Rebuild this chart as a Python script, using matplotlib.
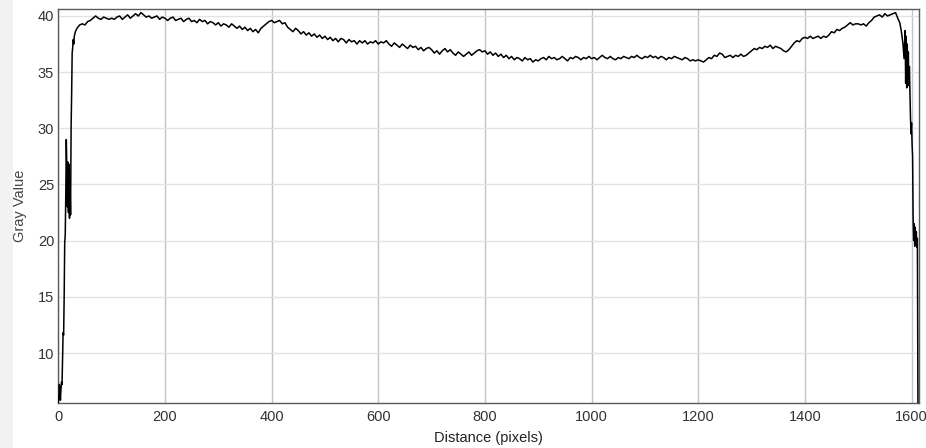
import numpy as np
import matplotlib
matplotlib.use("Agg")
import matplotlib.pyplot as plt
from matplotlib.patches import Rectangle

# Gray-value line profile: steep rise at the left edge, broad plateau, edge drop at the right.
# Left edge samples (distance in pixels, gray value)
left_x = [0, 1, 2, 3, 4, 5, 6, 7, 8, 9, 10, 11, 12, 13, 14, 15, 16, 17, 18,
          19, 20, 21, 22, 23, 24, 25, 26, 27, 28, 29, 30, 32]
left_y = [5.6, 6.0, 7.2, 6.5, 5.8, 6.8, 7.4, 7.2, 9.5, 11.8, 11.6, 15.0, 19.8,
          20.5, 24.0, 29.0, 26.5, 23.0, 27.0, 22.5, 26.8, 22.0, 25.0, 22.3, 30.0,
          33.0, 36.7, 37.2, 37.9, 37.5, 38.2, 38.6]

# Plateau, sampled every 5 pixels from distance 35 to 1570
body_start = 35
body_step = 5
body_y = [
    38.9, 39.2, 39.3, 39.2, 39.5, 39.6, 39.8, 40.0, 39.8, 39.7, 39.9, 39.8, 39.7,
    # 100
    39.8, 39.7, 39.9, 40.0, 39.7, 39.9, 40.1, 39.8, 40.0, 40.2,
    40.0, 40.3, 40.1, 39.9, 40.0, 39.8, 39.9, 40.0, 39.7, 39.9,
    # 200
    39.8, 39.6, 39.8, 39.9, 39.6, 39.7, 39.8, 39.5, 39.7, 39.8,
    39.5, 39.6, 39.4, 39.7, 39.5, 39.6, 39.3, 39.5, 39.4, 39.2,
    # 300
    39.4, 39.1, 39.3, 39.2, 39.0, 39.3, 39.1, 38.9, 39.1, 38.8,
    39.0, 38.7, 38.9, 38.6, 38.8, 38.5, 38.9, 39.1, 39.3, 39.5,
    # 400
    39.6, 39.4, 39.5, 39.6, 39.3, 39.4, 39.0, 38.8, 38.6, 38.9,
    38.7, 38.4, 38.6, 38.3, 38.5, 38.2, 38.4, 38.1, 38.3, 38.0,
    # 500
    38.2, 37.9, 38.1, 37.8, 38.0, 37.7, 38.0, 37.9, 37.6, 37.9,
    37.7, 37.8, 37.5, 37.8, 37.6, 37.8, 37.5, 37.7, 37.6, 37.8,
    # 600
    37.5, 37.7, 37.6, 37.8, 37.5, 37.3, 37.6, 37.4, 37.2, 37.5,
    37.3, 37.1, 37.4, 37.2, 37.3, 37.0, 37.2, 36.9, 37.1, 37.2,
    # 700
    37.0, 36.7, 36.9, 36.6, 36.9, 37.1, 36.8, 37.0, 36.7, 36.5,
    36.8, 36.6, 36.4, 36.6, 36.8, 36.5, 36.7, 36.9, 37.0, 36.8,
    # 800
    36.9, 36.6, 36.8, 36.5, 36.7, 36.4, 36.6, 36.3, 36.5, 36.2,
    36.4, 36.1, 36.3, 36.2, 36.0, 36.3, 36.1, 36.2, 35.9, 36.1,
    # 900
    36.0, 36.2, 36.3, 36.1, 36.4, 36.2, 36.3, 36.1, 36.2, 36.4,
    36.2, 36.0, 36.3, 36.2, 36.4, 36.3, 36.1, 36.3, 36.2, 36.4,
    # 1000
    36.2, 36.3, 36.1, 36.3, 36.5, 36.3, 36.2, 36.4, 36.2, 36.1,
    36.3, 36.2, 36.4, 36.3, 36.2, 36.4, 36.3, 36.5, 36.3, 36.2,
    # 1100
    36.4, 36.3, 36.5, 36.3, 36.4, 36.2, 36.4, 36.3, 36.1, 36.3,
    36.2, 36.4, 36.3, 36.2, 36.1, 36.3, 36.2, 36.0, 36.1, 36.0,
    # 1200
    36.1, 36.0, 35.9, 36.1, 36.3, 36.2, 36.5, 36.4, 36.7, 36.6,
    36.3, 36.4, 36.5, 36.3, 36.5, 36.4, 36.6, 36.4, 36.5, 36.7,
    # 1300
    36.9, 37.1, 37.0, 37.2, 37.1, 37.3, 37.2, 37.4, 37.1, 37.3,
    37.2, 37.1, 36.9, 36.8, 37.0, 37.3, 37.6, 37.8, 37.7, 38.0,
    # 1400
    38.1, 38.0, 38.2, 38.0, 38.1, 38.2, 38.0, 38.2, 38.1, 38.3,
    38.6, 38.5, 38.8, 38.7, 38.9, 39.0, 39.2, 39.4, 39.2, 39.3,
    # 1500
    39.3, 39.2, 39.3, 39.1, 39.4, 39.6, 39.9, 40.0, 40.1, 39.9,
    40.2, 40.0, 40.1, 40.2, 40.3,
]

# Right edge samples
right_x = [1575, 1578, 1581, 1584, 1586, 1588, 1589, 1590, 1591, 1592, 1593,
           1594, 1595, 1596, 1597, 1598, 1599, 1600, 1601, 1602, 1603, 1604,
           1605, 1606, 1607, 1608, 1609, 1610, 1611, 1612]
right_y = [39.7, 39.4, 38.6, 37.5, 36.2, 38.7, 34.0, 38.2, 33.6, 37.5, 34.2,
           36.8, 33.8, 35.5, 33.2, 31.0, 29.5, 30.5, 28.6, 27.5, 21.9, 20.0,
           21.5, 19.5, 21.2, 19.8, 20.8, 19.4, 20.2, 5.6]

x_ticks = [0, 200, 400, 600, 800, 1000, 1200, 1400, 1600]
y_ticks = [10, 15, 20, 25, 30, 35, 40]

body_x = body_start + body_step * np.arange(len(body_y))
dist = np.concatenate([left_x, body_x, right_x])
gray = np.concatenate([left_y, body_y, right_y])

plt.rcParams["font.family"] = ["Liberation Sans", "DejaVu Sans"]

fig = plt.figure(figsize=(9.26, 4.48), dpi=100)
fig.patch.set_facecolor("white")
# light side strip along the left edge of the window
fig.patches.append(Rectangle((0, 0), 13 / 926, 1, transform=fig.transFigure,
                             facecolor="#f2f2f2", edgecolor="none", zorder=0))

ax = fig.add_axes([58.3 / 926, 1 - 403 / 448, (919 - 58.3) / 926, (403 - 9) / 448])
ax.plot(dist, gray, color="black", lw=1.1, zorder=3)

ax.set_xlim(0, 1614)
ax.set_ylim(5.55, 40.62)
ax.set_xticks(x_ticks)
ax.set_yticks(y_ticks)

for t in x_ticks:
    ax.axvline(t, color="#c4c4c4", lw=1.0, zorder=1)
for t in y_ticks:
    ax.axhline(t, color="#e2e2e2", lw=1.0, zorder=1)

for s in ax.spines.values():
    s.set_color("#5a5a5a")
    s.set_linewidth(1.0)

ax.tick_params(length=0, labelsize=10.5, labelcolor="#333333")
ax.tick_params(axis="x", pad=5)
ax.tick_params(axis="y", pad=3)
ax.set_xlabel("Distance (pixels)", fontsize=10.5, color="#222222", labelpad=5)
ax.set_ylabel("Gray Value", fontsize=10.5, color="#444444", labelpad=8)

fig.savefig("out.png", dpi=100)
